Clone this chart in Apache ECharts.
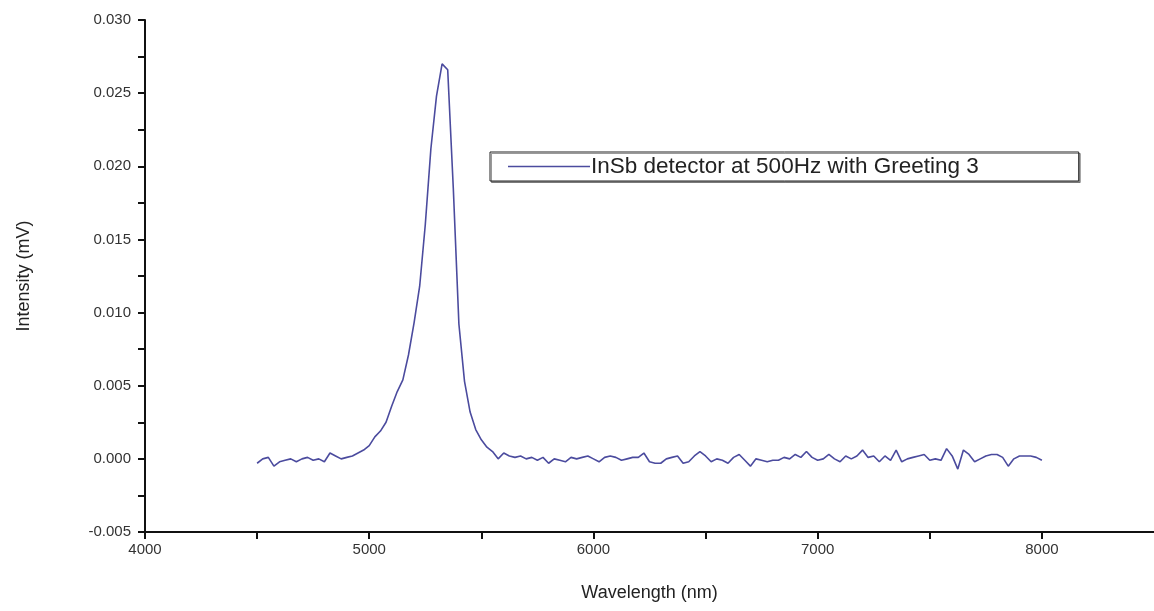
<!DOCTYPE html>
<html>
<head>
<meta charset="utf-8">
<script src="https://cdn.jsdelivr.net/npm/echarts@6/dist/echarts.min.js"></script>
<style>html,body{margin:0;padding:0;background:#fff}#c{width:1154px;height:611px}</style>
</head>
<body>
<div id="c"></div>
<script>
const seriesName = 'InSb detector at 500Hz with Greeting 3';
const xTitle = 'Wavelength (nm)';
const yTitle = 'Intensity (mV)';
const wavelengthStart = 4500;
const wavelengthStep = 25;
const intensity = [
  -0.0003, 0.0000, 0.0001, -0.0005, -0.0002, -0.0001, 0.0000, -0.0002, 0.0000, 0.0001,
  -0.0001, 0.0000, -0.0002, 0.0004, 0.0002, 0.0000, 0.0001, 0.0002, 0.0004, 0.0006,
  0.0009, 0.0015, 0.0019, 0.0025, 0.0036, 0.0046, 0.0054, 0.0071, 0.0093, 0.0118,
  0.0160, 0.0212, 0.0248, 0.0270, 0.0266, 0.0185, 0.0092, 0.0053, 0.0032, 0.0020,
  0.0013, 0.0008, 0.0005, 0.0000, 0.0004, 0.0002, 0.0001, 0.0002, 0.0000, 0.0001,
  -0.0001, 0.0001, -0.0003, 0.0000, -0.0001, -0.0002, 0.0001, 0.0000, 0.0001, 0.0002,
  0.0000, -0.0002, 0.0001, 0.0002, 0.0001, -0.0001, 0.0000, 0.0001, 0.0001, 0.0004,
  -0.0002, -0.0003, -0.0003, 0.0000, 0.0001, 0.0002, -0.0003, -0.0002, 0.0002, 0.0005,
  0.0002, -0.0002, 0.0000, -0.0001, -0.0003, 0.0001, 0.0003, -0.0001, -0.0005, 0.0000,
  -0.0001, -0.0002, -0.0001, -0.0001, 0.0001, 0.0000, 0.0003, 0.0001, 0.0005, 0.0001,
  -0.0001, 0.0000, 0.0003, 0.0000, -0.0002, 0.0002, 0.0000, 0.0002, 0.0006, 0.0001,
  0.0002, -0.0002, 0.0002, -0.0001, 0.0006, -0.0002, 0.0000, 0.0001, 0.0002, 0.0003,
  -0.0001, 0.0000, -0.0001, 0.0007, 0.0002, -0.0007, 0.0006, 0.0003, -0.0002, 0.0000,
  0.0002, 0.0003, 0.0003, 0.0001, -0.0005, 0.0000, 0.0002, 0.0002, 0.0002, 0.0001,
  -0.0001
];
const wavelengths = intensity.map((_, i) => wavelengthStart + i * wavelengthStep);
const xMin = 4000, xMax = 8500, xTick = 500, xLabelEvery = 1000;
const yMin = -0.005, yMax = 0.030, yTick = 0.0025, yLabelEvery = 0.005;

const font = 'Liberation Sans, Arial, sans-serif';
const chart = echarts.init(document.getElementById('c'), null, {renderer: 'canvas'});
chart.setOption({
  animation: false,
  backgroundColor: '#ffffff',
  grid: {left: 145, top: 20, width: 1012, bottom: 79, containLabel: false},
  legend: {
    show: true,
    left: 490, top: 152,
    orient: 'horizontal',
    padding: [3, 100, 3, 18],
    itemWidth: 82, itemHeight: 24,
    icon: 'path://M0,11.2 L82,11.2 L82,12.8 L0,12.8 Z',
    borderColor: '#222', borderWidth: 1,
    backgroundColor: '#fff',
    shadowColor: 'rgba(0,0,0,0.4)', shadowOffsetX: 1.5, shadowOffsetY: 1.5, shadowBlur: 0,
    textStyle: {fontFamily: font, fontSize: 22.5, color: '#222', padding: [0, 0, 0, -4]},
    data: [seriesName]
  },
  xAxis: {
    type: 'value', min: xMin, max: xMax, interval: xTick,
    name: xTitle, nameLocation: 'middle', nameGap: 52,
    nameTextStyle: {fontFamily: font, fontSize: 18, color: '#222'},
    axisLine: {onZero: false, lineStyle: {color: '#111', width: 2}},
    axisTick: {show: true, inside: false, length: 7, lineStyle: {color: '#111', width: 2}},
    axisLabel: {
      fontFamily: font, fontSize: 15, color: '#333', margin: 10, showMaxLabel: false,
      formatter: v => (Math.round(v) % xLabelEvery === 0 ? String(Math.round(v)) : '')
    },
    splitLine: {show: false}
  },
  yAxis: {
    type: 'value', min: yMin, max: yMax, interval: yTick,
    name: yTitle, nameLocation: 'middle', nameGap: 112, nameRotate: 90,
    nameTextStyle: {fontFamily: font, fontSize: 18, color: '#222'},
    axisLine: {show: true, onZero: false, lineStyle: {color: '#111', width: 2}},
    axisTick: {show: true, inside: false, length: 7, lineStyle: {color: '#111', width: 2}},
    axisLabel: {
      fontFamily: font, fontSize: 15, color: '#333', margin: 14,
      formatter: v => {
        const k = Math.round(v / yTick);
        return k % Math.round(yLabelEvery / yTick) === 0 ? (k * yTick).toFixed(3) : '';
      }
    },
    splitLine: {show: false}
  },
  series: [{
    name: seriesName,
    type: 'line',
    data: wavelengths.map((w, i) => [w, intensity[i]]),
    symbol: 'none',
    lineStyle: {color: '#4b4b9e', width: 1.6},
    itemStyle: {color: '#4b4b9e'}
  }]
});
</script>
</body>
</html>
